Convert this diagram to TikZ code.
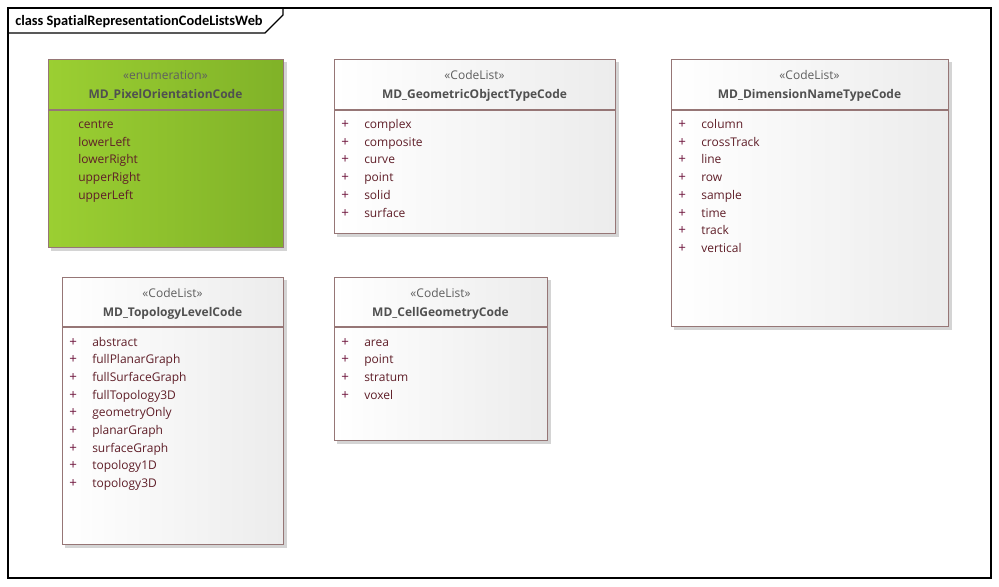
\documentclass[tikz,border=0pt]{standalone}
\usepackage{fontspec}
\setmainfont{Open Sans}
\newfontfamily\titlefont[Ligatures=NoCommon]{Carlito}
\definecolor{bordc}{RGB}{150,118,118}
\definecolor{shadc}{RGB}{212,212,212}
\definecolor{attrc}{RGB}{95,30,40}
\definecolor{plusc}{RGB}{110,20,60}
\definecolor{headc}{RGB}{80,80,80}
\definecolor{stc}{RGB}{95,95,95}
\definecolor{greenL}{RGB}{155,207,50}
\definecolor{greenR}{RGB}{128,178,40}
\definecolor{grayR}{RGB}{236,236,236}
\tikzset{
  umlbox/.style={draw=bordc, line width=0.9pt, rectangle, inner sep=0pt, anchor=north west},
  codebox/.style={umlbox, left color=white, right color=grayR},
  enumbox/.style={umlbox, left color=greenL, right color=greenR},
  sttext/.style={font=\fontsize{9}{11}\selectfont, text=stc, anchor=base},
  nametext/.style={font=\fontsize{9}{11}\selectfont\bfseries, text=headc, anchor=base},
  attrtext/.style={font=\fontsize{9}{11}\selectfont, text=attrc, anchor=base west, inner sep=0pt},
  plustext/.style={font=\fontsize{10}{11}\selectfont, text=plusc, anchor=base west, inner sep=0pt},
}
% #1 name #2 x1 #3 y1 #4 x2 #5 y2 #6 style #7 stereotype #8 title #9 divider y
\newcommand\umlclass[9]{%
  \fill[shadc] (#2+3,#3+3) rectangle (#4+4,#5+4);
  \node[#6, minimum width={(#4-#2)*0.75pt}, minimum height={(#5-#3)*0.75pt}] (#1) at (#2,#3) {};
  \draw[bordc, line width=0.9pt] (#1.west |- 0,#9) -- (#1.east |- 0,#9);
  \node[sttext] (#1-st) at ({(#2+#4)/2},#3+20) {«#7»};
  \node[nametext] (#1-nm) at ({(#2+#4)/2},#3+39) {#8};
}
\begin{document}
\begin{tikzpicture}[x=0.75pt,y=-0.75pt]
\useasboundingbox (0,0) rectangle (999,586);
\fill[white] (0,0) rectangle (999,586);
% frame
\draw[line width=1.1pt] (8,8) rectangle (991,578);
\node[coordinate] (f1) at (8,33) {};
\node[coordinate] (f2) at (265,33) {};
\node[coordinate] (f3) at (283,15) {};
\node[coordinate] (f4) at (283,8) {};
\draw[line width=0.9pt] (f1) -- (f2) -- (f3) -- (f4);
\node[font=\titlefont\fontsize{10.8}{12}\selectfont\bfseries, anchor=base west, inner sep=0pt] (frametitle) at (15,25) {class SpatialRepresentationCodeListsWeb};

% enumeration
\umlclass{pix}{48}{59}{283}{247}{enumbox}{enumeration}{MD\_PixelOrientationCode}{110}
\foreach \t [count=\i from 0] in {centre,lowerLeft,lowerRight,upperRight,upperLeft}
  \node[attrtext] (pix-a\i) at (78,{128.5+17.7*\i}) {\t};

% geometric
\umlclass{geo}{334}{59}{615}{233}{codebox}{CodeList}{MD\_GeometricObjectTypeCode}{110}
\foreach \t [count=\i from 0] in {complex,composite,curve,point,solid,surface}{
  \node[plustext] (geo-p\i) at (341,{128.5+17.7*\i}) {+};
  \node[attrtext] (geo-a\i) at (364,{128.5+17.7*\i}) {\t};}

% dimension
\umlclass{dim}{671}{59}{948}{326}{codebox}{CodeList}{MD\_DimensionNameTypeCode}{110}
\foreach \t [count=\i from 0] in {column,crossTrack,line,row,sample,time,track,vertical}{
  \node[plustext] (dim-p\i) at (678,{128.5+17.7*\i}) {+};
  \node[attrtext] (dim-a\i) at (701,{128.5+17.7*\i}) {\t};}

% topology
\umlclass{top}{62}{277}{283}{544}{codebox}{CodeList}{MD\_TopologyLevelCode}{327}
\foreach \t [count=\i from 0] in {abstract,fullPlanarGraph,fullSurfaceGraph,fullTopology3D,geometryOnly,planarGraph,surfaceGraph,topology1D,topology3D}{
  \node[plustext] (top-p\i) at (69,{346+17.7*\i}) {+};
  \node[attrtext] (top-a\i) at (92,{346+17.7*\i}) {\t};}

% cell geometry
\umlclass{cell}{334}{277}{547}{440}{codebox}{CodeList}{MD\_CellGeometryCode}{327}
\foreach \t [count=\i from 0] in {area,point,stratum,voxel}{
  \node[plustext] (cell-p\i) at (341,{346+17.7*\i}) {+};
  \node[attrtext] (cell-a\i) at (364,{346+17.7*\i}) {\t};}
\end{tikzpicture}
\end{document}
